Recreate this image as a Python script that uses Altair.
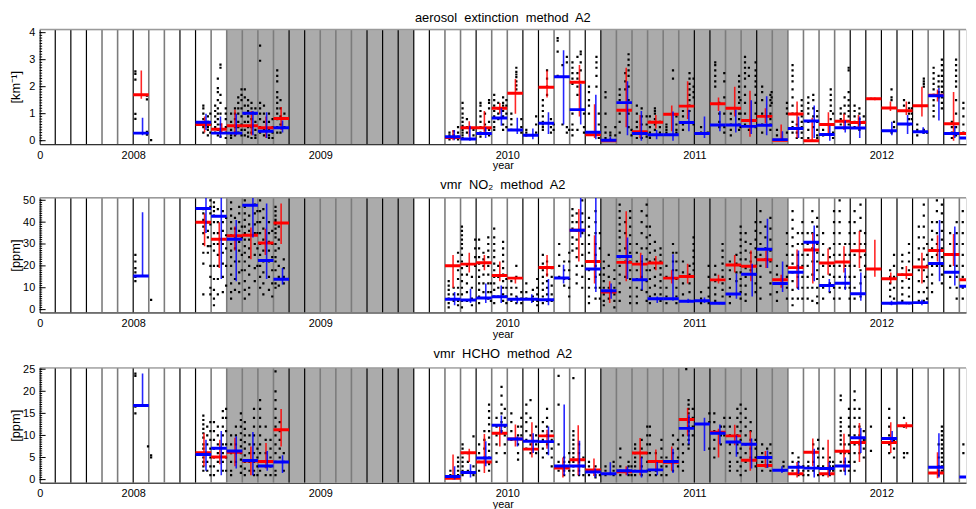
import altair as alt
import numpy as np
import pandas as pd

FONT = "Liberation Sans"
W, H = 936, 116
X_LO = 2007.5                      # month index 0 = July 2007
X_HI = X_LO + W / 189.0

# ---------------- shared layout data ----------------
SHADE_START = [2008.5, 2010.5]
SHADE_END = [2009.5, 2011.5]
LINE_K = list(range(1, 60))
LINE_TONE = "bbbggbggbb" "gggggbbggg" "bbbbbggbgg" "bbggbbgggg" "gbbggbgggg" "gbbbbbgbg"
X_TICKS = [2007.5, 2008, 2009, 2010, 2011, 2012]

# ---------------- aerosol extinction ----------------
AER_DOTS = [
    (6.14, [2.57, 2.47, 2.26, 0.99, 0.81]), (6.88, [1.67, 1.53, 0.33, 0.22]), (7.15, [0.02]),
    (10.50, [1.3, 1.2, 1.0, 0.8, 0.6, 0.5, 0.3]), (10.79, [0.9, 0.7, 0.5, 0.4, 0.2]), (10.95, [1.0, 0.6, 0.3]),
    (11.26, [1.3, 1.1, 0.9, 0.7, 0.5, 0.3]), (11.43, [2.3, 1.95, 1.8, 1.5, 1.2, 1.0, 0.8, 0.6, 0.4, 0.2]),
    (11.60, [2.82, 2.7, 1.7, 1.4, 1.0, 0.6, 0.35, 0.15]), (11.94, [1.2, 1.0, 0.8, 0.5, 0.3, 0.1]),
    (12.28, [1.0, 0.7, 0.4, 0.2, 0.1]), (12.53, [1.2, 1.0, 0.8, 0.5, 0.3, 0.2]),
    (12.74, [1.6, 1.4, 1.2, 1.0, 0.7, 0.5, 0.3]), (12.95, [1.9, 1.7, 1.5, 1.2, 0.9, 0.6, 0.4, 0.2]),
    (13.16, [1.9, 1.6, 1.3, 1.0, 0.7, 0.4, 0.2]), (13.37, [1.5, 1.3, 1.1, 0.9, 0.7, 0.5, 0.3, 0.15]),
    (13.59, [1.4, 1.2, 1.0, 0.8, 0.5, 0.3, 0.1]), (13.84, [1.2, 1.0, 0.7, 0.4, 0.2, 0.1]),
    (14.14, [3.52, 2.96, 1.4, 1.2, 1.0, 0.8, 0.5, 0.3]), (14.39, [1.3, 1.0, 0.7, 0.4, 0.2]),
    (14.71, [1.0, 0.7, 0.4, 0.2, 0.1]), (14.94, [0.8, 0.5, 0.3, 0.1]),
    (15.24, [2.6, 2.4, 2.2, 1.8, 1.6, 1.4, 1.2, 1.0, 0.8, 0.5, 0.3]), (15.45, [1.5, 1.2, 0.9, 0.6, 0.3]),
    (15.70, [1.0, 0.5]),
    (26.29, [0.3, 0.2, 0.1, 0.05]), (26.56, [0.35, 0.2, 0.1]), (26.84, [0.5, 0.3, 0.15, 0.05]),
    (27.13, [1.4, 1.2, 1.0, 0.85, 0.7, 0.55, 0.4, 0.3, 0.2, 0.1]), (27.41, [0.8, 0.5, 0.3]), (27.83, [0.4, 0.2]),
    (28.28, [1.4, 1.3, 1.1, 0.9, 0.7, 0.5, 0.3, 0.15]), (28.57, [1.0, 0.6, 0.4]),
    (28.83, [1.5, 1.4, 1.2, 0.7, 0.4, 0.2]), (29.16, [1.7, 1.5, 1.3, 1.1, 0.9, 0.7, 0.5, 0.4]),
    (29.42, [1.4, 1.2, 1.0, 0.8]), (29.73, [1.6, 1.4, 1.3, 1.1, 0.9, 0.6, 0.4]), (29.94, [1.5, 1.3, 1.0, 0.5]),
    (30.26, [1.0, 0.8, 0.6, 0.4]), (30.58, [2.7, 2.55, 2.45, 2.35, 2.2, 2.05, 1.9]), (30.90, [0.8, 0.5, 0.3]),
    (31.22, [0.4, 0.3, 0.2]), (31.85, [0.9, 0.6, 0.3]),
    (32.28, [1.5, 1.3, 1.1, 0.9, 0.7, 0.6, 0.5, 0.4]), (32.55, [2.6, 2.3, 2.0, 1.7]), (32.80, [0.8, 0.5, 0.3]),
    (32.97, [0.6, 0.4]), (33.23, [3.8, 3.7, 3.3, 2.4]), (33.54, [2.8, 0.6]), (33.82, [3.1, 2.9, 0.5, 0.3]),
    (33.97, [0.4]), (34.18, [2.9, 2.7, 2.5, 2.3, 2.1, 1.0, 0.6, 0.4, 0.2]), (34.50, [3.1, 2.5, 2.3, 2.0, 1.7, 0.4]),
    (34.71, [3.3, 3.2, 2.9, 2.6]), (34.92, [1.0, 0.5, 0.3]), (35.24, [2.0, 1.8, 1.5, 1.3, 1.0]),
    (35.72, [3.1, 2.9, 2.7, 2.4, 2.0]), (35.87, [1.0, 0.6, 0.3, 0.1]), (36.30, [1.8, 1.6, 1.0, 0.5, 0.3, 0.1]),
    (36.61, [0.3, 0.2]), (36.93, [0.5, 0.2]), (37.21, [1.9, 1.7, 1.5, 1.0, 0.7, 0.3]), (37.57, [2.5, 2.2, 1.9]),
    (37.78, [3.2, 3.0, 2.8, 2.6, 2.4, 2.0, 1.5, 1.0, 0.5]), (37.97, [0.4, 0.2]),
    (38.31, [1.3, 1.0, 0.7, 0.5, 0.3, 0.1]), (38.62, [1.2, 0.9, 0.6, 0.3, 0.1]), (38.94, [0.9, 0.6, 0.3, 0.15]),
    (39.15, [0.9, 0.7, 0.5, 0.3, 0.2, 0.1]), (39.47, [1.2, 1.1, 1.0, 0.8, 0.6, 0.4]), (39.79, [0.7, 0.5, 0.3]),
    (40.21, [0.6, 0.5, 0.4, 0.3]), (40.63, [2.6, 2.3]), (40.85, [0.9, 0.6, 0.4, 0.3]),
    (41.27, [1.1, 0.9, 0.6, 0.4]), (41.69, [2.5, 2.3, 2.1, 1.9, 1.7, 1.5, 1.3, 1.1]), (41.95, [2.3, 2.0, 1.8, 1.6, 0.6]),
    (42.43, [0.5, 0.3]), (42.86, [0.3]), (43.34, [2.9, 2.8, 2.6, 2.4, 2.2, 2.0]), (43.60, [1.4, 1.0, 0.7, 0.5]),
    (43.92, [2.5, 2.2, 1.6, 1.0, 0.5, 0.3]), (44.34, [1.0, 0.8, 0.6, 0.4, 0.2]),
    (44.87, [2.4, 2.2, 2.0, 1.8, 1.6, 1.4, 1.2, 1.0, 0.8, 0.6, 0.4]), (44.96, [1.5, 1.0, 0.5]),
    (45.25, [3.1, 2.9, 2.7, 2.5, 2.3, 2.0, 1.7, 1.4, 1.0, 0.6]), (45.50, [2.7, 2.4, 0.4]),
    (45.93, [2.9, 2.6, 2.4, 2.2, 2.0, 1.7, 1.4, 1.0, 0.5]), (46.35, [2.0, 1.8, 1.5, 1.0, 0.6, 0.3]),
    (46.88, [1.7, 1.5, 1.3, 1.0, 0.8, 0.6, 0.4]), (46.96, [1.8, 1.6, 1.4]), (47.30, [0.4, 0.2]),
    (47.94, [1.4, 1.2, 1.0, 0.3]), (48.30, [2.8, 2.6, 2.4, 2.2, 1.9, 1.6, 1.3, 1.0, 0.7, 0.5, 0.3]),
    (48.57, [1.0, 0.6, 0.3, 0.1]), (48.89, [1.5, 1.3, 1.1, 0.9, 0.7, 0.5, 0.3, 0.1]),
    (49.31, [1.6, 1.4, 1.2, 1.0, 0.7, 0.4, 0.1]), (49.63, [1.7, 1.5, 1.2, 0.9, 0.5]),
    (49.88, [1.1, 0.9, 0.7, 0.4, 0.2, 0.1]), (50.26, [0.6, 0.4, 0.2]), (50.75, [1.9, 1.7, 1.5, 1.3, 1.1, 0.8]),
    (50.90, [1.0, 0.6, 0.3, 0.1]), (51.39, [1.2, 1.0, 0.8, 0.6]), (51.64, [1.6, 1.3, 1.0, 0.7]),
    (51.90, [2.7, 2.6, 1.8, 1.5, 1.3, 1.1, 0.9, 0.6]), (52.28, [1.3, 1.1, 0.9, 0.7, 0.5]),
    (52.59, [1.2, 1.0, 0.8, 0.6, 0.4]), (52.87, [0.9, 0.7]), (53.33, [1.55]), (54.65, [1.9, 1.6, 1.5, 0.3]),
    (54.81, [0.7, 0.5]), (55.45, [1.5, 1.3, 1.1]), (55.77, [1.4, 1.2, 1.0, 0.8, 0.6]), (55.95, [1.2, 1.0, 0.8]),
    (56.30, [0.6, 0.4, 0.2]), (56.72, [2.3, 2.2, 2.1, 2.0, 0.4, 0.3]), (56.93, [0.3]),
    (57.35, [2.7, 2.5, 2.3, 2.1, 1.9, 1.7, 1.5, 1.3, 1.1, 0.9]), (57.67, [2.4, 2.2, 2.0, 1.8, 1.7, 1.6]),
    (57.88, [3.0, 2.8, 2.6, 2.4, 2.2, 2.0, 1.8, 1.6, 1.4, 1.2]), (58.52, [0.7, 0.5, 0.3, 0.1]),
    (58.79, [3.0, 2.8, 2.6, 2.4, 2.2, 2.0, 1.5, 1.0, 0.5, 0.2]), (59.26, [1.4, 1.2, 0.9, 0.6, 0.3]),
]
# (month index, value, low, high, position of error bar within month)
AER_RED = [
    (6, 1.70, 1.55, 2.60, .52), (10, 0.60, 0.30, 0.90, .58), (11, 0.42, 0.25, 0.65, .68),
    (12, 0.55, 0.20, 1.15, .53), (13, 0.55, 0.20, 1.10, .59), (14, 0.48, 0.10, 0.90, .52),
    (15, 0.82, 0.40, 1.25, .49), (26, 0.12, 0.02, 0.40, .52), (27, 0.48, 0.15, 0.72, .56),
    (28, 0.48, 0.30, 1.10, .53), (29, 1.20, 1.00, 1.40, .52), (30, 1.76, 1.00, 2.28, .52),
    (32, 1.98, 1.60, 2.60, .55), (34, 2.16, 0.90, 2.80, .63), (35, 0.22, 0.10, 1.35, .60),
    (36, 0.00, 0.00, 0.10, .61), (37, 1.13, 0.50, 2.70, .63), (38, 0.33, 0.10, 0.95, .52),
    (39, 0.68, 0.45, 0.95, .53), (40, 0.98, 0.35, 1.30, .55), (41, 1.28, 0.80, 2.20, .57),
    (43, 1.37, 1.10, 1.60, .55), (44, 1.20, 0.90, 2.00, .59), (45, 0.75, 0.15, 1.85, .57),
    (46, 0.90, 0.65, 1.20, .56), (47, 0.02, 0.00, 0.60, .57), (48, 0.99, 0.10, 1.45, .59),
    (49, 0.00, 0.00, 0.85, .56), (50, 0.60, 0.25, 1.05, .60), (51, 0.72, 0.40, 1.00, .60),
    (52, 0.67, 0.45, 0.95, .53), (53, 1.55, 1.50, 1.60, .58), (54, 1.21, 1.10, 1.45, .58),
    (55, 1.11, 0.95, 1.45, .60), (56, 1.29, 0.90, 2.00, .60), (57, 1.68, 1.45, 1.90, .60),
    (58, 0.63, 0.00, 1.80, .63), (59, 0.27, 0.10, 0.40, .50),
]
AER_BLUE = [
    (6, 0.28, 0.20, 0.85, .60), (10, 0.68, 0.40, 1.00, .67), (11, 0.28, 0.10, 0.90, .60),
    (12, 0.28, 0.20, 1.00, .61), (13, 1.02, 0.20, 1.10, .68), (14, 0.35, 0.10, 1.05, .56),
    (15, 0.48, 0.30, 0.75, .58), (26, 0.15, 0.02, 0.40, .60), (27, 0.06, 0.00, 0.55, .60),
    (28, 0.27, 0.10, 0.50, .61), (29, 0.84, 0.55, 1.20, .62), (30, 0.40, 0.25, 0.85, .64),
    (31, 0.20, 0.05, 0.45, .64), (32, 0.65, 0.25, 1.05, .64), (33, 2.37, 0.60, 3.35, .61),
    (34, 1.15, 0.60, 2.10, .71), (35, 0.31, 0.05, 1.70, .68), (36, 0.02, 0.00, 0.15, .61),
    (37, 1.41, 0.20, 2.20, .71), (38, 0.27, 0.00, 1.10, .60), (39, 0.22, 0.05, 0.40, .58),
    (40, 0.22, 0.00, 1.08, .63), (41, 0.67, 0.35, 1.15, .65), (42, 0.27, 0.10, 0.90, .65),
    (43, 0.58, 0.35, 1.10, .64), (44, 0.58, 0.30, 1.15, .66), (45, 0.53, 0.25, 1.50, .65),
    (46, 0.57, 0.20, 1.65, .64), (47, 0.04, 0.00, 0.35, .65), (48, 0.45, 0.10, 0.90, .68),
    (49, 0.73, 0.10, 1.30, .69), (50, 0.23, 0.00, 0.55, .69), (51, 0.48, 0.30, 0.75, .68),
    (52, 0.47, 0.10, 0.90, .61), (54, 0.37, 0.20, 0.70, .67), (55, 0.62, 0.25, 0.95, .68),
    (56, 0.33, 0.25, 0.50, .68), (57, 1.66, 0.75, 1.95, .69), (58, 0.27, 0.10, 0.55, .71),
    (59, 0.10, 0.00, 0.20, .60),
]

# ---------------- NO2 ----------------
NO2_DOTS = [
    (6.14, [25, 22, 19, 17, 15, 13]), (7.15, [4.5]),
    (10.50, [46, 44, 41, 38, 35, 30, 26, 21, 7]), (10.79, [40, 36, 33, 29, 26]),
    (10.95, [50, 47, 44, 39, 29, 20, 15, 10, 7]), (11.18, [49, 47, 45, 43, 40, 35, 30, 27, 20, 14, 9, 5, 2]),
    (11.43, [46, 40, 35, 30, 25, 20, 14, 7]), (11.75, [45, 40, 36, 30, 26, 21, 15, 8]),
    (11.96, [42, 34, 28, 20, 11]), (12.28, [49, 46, 43, 40, 37, 34, 30, 27, 24, 20, 16, 12, 8, 5]),
    (12.53, [42, 37, 33, 28, 22, 14, 9]), (12.80, [47, 44, 40, 36, 31, 27, 22, 17, 12, 8]),
    (12.97, [38, 33, 25, 18]), (13.16, [50, 47, 44, 41, 38, 35, 32, 29, 26, 22, 18, 13, 9, 5]),
    (13.44, [43, 39, 36, 32, 28, 24, 20, 16, 10, 7]), (13.80, [48, 44, 39, 35, 30, 25, 19, 13]),
    (13.97, [45, 40, 35, 28, 20]), (14.14, [50, 45, 40, 35, 30, 25, 20, 15, 10]),
    (14.35, [46, 42, 37, 32, 27, 22, 17, 12, 7]), (14.71, [40, 35, 31, 27, 22, 15, 9]),
    (14.92, [36, 30, 24, 18, 12, 6]),
    (15.13, [47, 45, 43, 41, 40, 39, 37, 35, 33, 30, 27, 24, 22, 18, 14, 12, 10]),
    (15.34, [38, 32, 28, 20, 15, 11]), (15.66, [23, 19, 15, 12]),
    (26.24, [13, 11, 9, 7, 5, 3, 1]), (26.56, [10, 7, 4]), (26.84, [26, 22, 18, 14, 10, 7, 4, 2]),
    (27.09, [38, 36, 34, 32, 30, 28, 25, 22, 19, 16, 13, 10, 7, 4, 1]), (27.41, [20, 16, 12, 8, 4]),
    (27.73, [15, 10, 5, 2]), (27.94, [32, 28, 24, 20]), (28.19, [32, 28, 24, 21, 18, 15, 12, 9, 6, 3]),
    (28.47, [26, 23, 20, 16, 12, 8]), (28.78, [33, 30, 27, 24, 20, 16, 12, 8, 5]), (28.95, [12, 8, 4]),
    (29.16, [37, 33, 30, 27, 24, 21, 18, 15, 12, 9, 6, 3]), (29.42, [20, 15, 10, 6]),
    (29.73, [31, 28, 25, 22, 19, 16, 13, 10, 7, 4]), (29.94, [14, 10, 6, 3]),
    (30.26, [13, 10, 7, 4]), (30.58, [20, 15, 10, 6, 3]), (30.90, [8, 5, 3]),
    (31.22, [12, 8, 5]), (31.64, [9, 6, 4]), (31.92, [14, 10, 7, 4, 2]),
    (32.28, [25, 21, 18, 15, 12, 9, 6, 3]), (32.55, [22, 19, 16, 13, 10, 7, 4]), (32.85, [19, 15, 11, 7, 4]),
    (33.33, [30, 25, 20, 15]), (33.65, [22, 18, 14, 11]), (33.97, [26, 22, 18, 14, 10, 6]),
    (34.18, [46, 43, 40, 37, 33, 30, 27]), (34.45, [44, 40, 36, 32, 28, 24, 20, 16, 12]),
    (34.81, [50, 44, 40, 35, 30, 25, 20, 15, 10]), (35.24, [42, 38, 34, 30, 26, 22, 18, 14, 10, 6, 3]),
    (35.66, [45, 40, 35, 30, 25, 20, 15, 10, 5]), (35.94, [35, 28, 22, 16, 10, 5]),
    (36.19, [22, 19, 16, 13, 10, 7, 4, 2]), (36.51, [25, 20, 15, 10, 5]), (36.87, [18, 14, 10, 7, 4, 1]),
    (37.21, [48, 45, 42, 39, 36, 33, 30, 27, 24, 20, 16, 12, 8, 4]), (37.57, [40, 35, 28, 22, 15]),
    (37.88, [45, 42, 38, 34, 30, 26, 22, 18, 14, 10, 6, 3]), (38.31, [30, 26, 22, 18, 14, 10, 6, 3]),
    (38.62, [45, 40, 35, 28, 22, 15, 9]), (38.94, [48, 43, 38, 33, 28, 23, 18, 13, 8, 4]),
    (39.15, [38, 34, 30, 26, 22, 18, 14, 10, 6, 3]), (39.47, [31, 27, 23, 19, 15, 11, 7]),
    (39.83, [28, 25, 22, 19, 16, 13, 10, 7, 4]), (40.21, [20, 15, 10, 6, 3]), (40.63, [30, 26, 22, 18]),
    (40.85, [26, 22, 18, 14, 10, 6, 3]), (41.27, [22, 17, 12, 7]), (41.69, [20, 16, 12, 8, 4]),
    (41.95, [33, 30, 27, 24, 21, 18, 15]), (42.43, [8, 5, 3]), (42.92, [20, 15, 10, 6, 3]),
    (43.34, [20, 16, 13, 10, 7, 4]), (43.81, [30, 27, 24, 21, 18, 15, 12, 9, 6, 3]),
    (44.28, [22, 18, 14, 10, 6, 3]), (44.70, [25, 21, 17, 13]),
    (44.97, [38, 35, 32, 29, 26, 23, 20, 17, 14, 11, 8, 5]), (45.29, [35, 31, 27, 23, 19, 15, 11, 7, 4]),
    (45.61, [30, 26, 22, 18]), (45.93, [40, 36, 32, 28, 24, 20, 16, 12, 8]),
    (46.24, [45, 40, 35, 30, 25, 20, 15, 10, 5]), (46.56, [38, 33, 28, 23]),
    (46.88, [42, 37, 32, 27, 22, 17, 12, 7]), (47.30, [20, 16, 12, 8, 4]), (47.94, [35, 30, 25, 20, 15, 10, 5]),
    (48.30, [45, 41, 37, 33, 29, 25, 21, 17, 13, 9, 5, 2]), (48.64, [35, 30, 25, 20, 15, 10, 5]),
    (48.93, [40, 35, 30, 25, 20, 15, 10, 5]), (49.27, [35, 30, 25, 20, 15, 10, 5]),
    (49.57, [45, 40, 35, 28, 22, 16, 10, 4]), (49.88, [42, 38, 34, 30, 26, 22, 18, 14, 10, 6, 3]),
    (50.26, [35, 30, 25, 20, 15, 10, 5]), (50.69, [28, 24, 20, 16, 12, 8]),
    (50.96, [45, 40, 35, 30, 25, 20, 15, 10, 5]), (51.32, [50, 45, 40, 35, 30, 25, 20, 15, 10, 5]),
    (51.68, [30, 25, 20, 15, 10]), (51.96, [40, 35, 30, 25, 20, 15, 10, 5]),
    (52.28, [45, 40, 35, 30, 25, 20, 15, 10, 5]), (52.66, [48, 42, 36, 30, 24, 18, 12, 6]),
    (52.95, [35, 30, 25, 20, 15]), (54.56, [18, 15, 12, 9, 6, 3]), (54.81, [25, 20, 15, 10, 5]),
    (55.34, [25, 22, 19, 16, 13, 10, 7, 4]), (55.77, [30, 26, 22, 18, 14, 10, 6, 3]),
    (56.40, [38, 33, 28, 23, 18, 13, 8, 4]), (56.72, [48, 43, 38, 33, 28, 23, 18, 13, 8, 4]),
    (56.93, [30, 25, 20, 15, 10, 5]), (57.25, [40, 36, 32, 28, 24, 20, 16, 12, 8]),
    (57.56, [50, 45, 40, 35, 30, 25, 20]), (57.88, [48, 44, 40, 36, 32, 28, 24, 20, 16, 12]),
    (58.41, [35, 30, 25, 20, 15, 10]), (58.83, [40, 35, 30, 25, 20, 15, 10, 5]),
    (59.22, [45, 40, 35, 30, 25, 20, 15, 10, 5]),
]
NO2_RED = [
    (10, 40.0, 29, 44, .58), (11, 32.2, 19, 40, .52), (12, 33.8, 27, 38, .53), (13, 34.0, 23, 37.5, .55),
    (14, 30.5, 25, 37, .48), (15, 39.6, 30, 48.5, .49), (26, 20.1, 10, 25, .52), (27, 20.8, 17, 26, .56),
    (28, 21.4, 18, 25, .53), (29, 15.6, 13, 22, .52), (30, 14.4, 12, 15, .52), (32, 19.3, 15, 25, .55),
    (34, 36.3, 22, 46, .59), (35, 22.0, 12, 34, .60), (36, 8.0, 3, 13, .57), (37, 21.6, 13, 45, .63),
    (38, 20.8, 14, 26, .56), (39, 21.3, 18, 24.5, .53), (40, 14.4, 12, 18, .55), (41, 15.1, 12, 21, .57),
    (43, 13.6, 12, 16, .55), (44, 20.4, 17, 25, .59), (45, 19.8, 13, 27, .63), (46, 22.8, 19, 27, .60),
    (47, 13.7, 10, 16, .57), (48, 19.2, 10, 27.5, .59), (49, 27.3, 12, 35, .60), (50, 21.3, 16, 28, .58),
    (51, 21.8, 17, 29, .60), (52, 26.9, 19, 36, .59), (53, 18.6, 15, 32, .58), (54, 14.1, 12, 17, .60),
    (55, 16.0, 14, 20, .60), (56, 19.5, 12, 26, .60), (57, 27.0, 22, 34, .60), (58, 25.2, 20, 34.6, .63),
    (59, 13.7, 10, 16, .50),
]
NO2_BLUE = [
    (6, 15.4, 15, 44.5, .60), (10, 46.2, 35, 51, .67), (11, 42.7, 14, 51, .65), (12, 32.2, 13, 41, .61),
    (13, 47.7, 33, 51, .68), (14, 22.5, 14, 48.5, .56), (15, 13.9, 11.5, 19, .58), (26, 4.7, 2, 8, .62),
    (27, 4.4, 3, 9.5, .64), (28, 5.3, 3, 12, .62), (29, 5.9, 3, 11, .61), (30, 4.7, 3, 6, .64),
    (31, 4.7, 3, 7, .57), (32, 4.5, 2, 14, .64), (33, 14.5, 12, 20.5, .61), (34, 36.3, 33, 51, .71),
    (35, 18.6, 8, 51, .68), (36, 8.6, 5, 12, .66), (37, 24.3, 14, 33, .71), (38, 13.7, 9, 25, .65),
    (39, 5.0, 3, 6, .62), (40, 5.0, 4, 25.3, .63), (41, 3.8, 3, 5, .60), (42, 4.1, 3, 5.5, .65),
    (43, 2.9, 2.5, 3.5, .60), (44, 7.1, 5, 16.5, .70), (45, 16.2, 6, 21, .71), (46, 27.6, 19, 41.5, .69),
    (47, 11.9, 8, 22, .66), (48, 17.1, 9, 27, .68), (49, 30.8, 13, 38.5, .69), (50, 11.0, 8, 14, .66),
    (51, 12.1, 9, 19, .68), (52, 7.3, 4, 17, .68), (54, 2.9, 2, 4, .65), (55, 3.0, 2.5, 3.5, .60),
    (56, 3.2, 2, 4.5, .60), (57, 21.1, 13, 41, .73), (58, 17.1, 11, 38, .71), (59, 10.7, 9, 12, .50),
]

# ---------------- HCHO ----------------
HCHO_DOTS = [
    (6.14, [24, 23.5, 16.5, 15]), (6.95, [7.5]), (7.15, [5.5, 5.0]),
    (10.50, [14.5, 13.5, 12.5, 11.5, 10.5, 9.5, 8, 7, 6, 5, 4, 3, 2]), (10.75, [12, 10, 8, 6, 4, 2]),
    (10.95, [13, 11, 9, 7, 5, 3, 1]), (11.18, [13, 11, 9, 7, 5, 3, 1]), (11.43, [12, 10, 8, 6, 4, 2]),
    (11.75, [15.5, 14, 12, 10, 8, 6, 4, 2]), (11.96, [16, 14, 11, 8, 5, 2]), (12.28, [10, 8, 6, 4, 2, 1]),
    (12.59, [12, 10, 8, 6, 4]), (12.91, [15, 13.5, 12, 10.5, 9, 7.5, 6, 4.5, 3, 1.5]),
    (13.16, [13, 11.5, 10, 8.5, 7, 5.5, 4, 2.5, 1]), (13.46, [10, 8, 6, 4, 2]),
    (13.75, [16, 14, 12, 10, 8, 6, 4, 2, 1]), (13.97, [7, 5, 3, 1]), (14.14, [18, 16, 14, 12, 10, 8, 6, 4, 2]),
    (14.50, [12, 9, 6, 3, 1]), (14.81, [9, 7, 5, 3, 1]), (15.13, [24.5, 20, 18, 16, 14, 12, 10, 8, 6, 4, 2, 1]),
    (15.40, [13, 11, 9, 7, 5]), (15.66, [6, 4, 2]),
    (26.35, [2, 1, 0.5]), (26.84, [5, 4, 3, 2, 1, 0.5]), (27.13, [8, 7, 6, 5, 4, 3, 2, 1]), (27.47, [6, 4, 2]),
    (27.83, [9.8, 3, 1]), (28.19, [8, 6, 4, 2]), (28.53, [11, 9, 7, 5]),
    (28.83, [17, 15.5, 14, 12.5, 11, 9.5, 8, 6.5, 5, 3.5, 2]), (29.31, [14, 12, 10, 8, 6, 4]),
    (29.63, [21, 19, 17, 15, 13, 11]), (29.84, [16, 14, 12, 10, 8, 6]), (30.26, [15, 13, 11, 9]),
    (30.69, [12, 10, 8, 6, 4.5]), (30.90, [14, 12, 10]), (31.22, [17, 15, 13, 11, 9, 7]),
    (31.49, [18, 14, 10, 8, 6]), (31.85, [12, 10, 8, 6]), (32.28, [13, 11, 9, 7, 5]),
    (32.55, [16, 14, 12, 10, 8, 6]), (32.85, [11, 9, 7, 5, 3]), (33.29, [23.5, 17, 8, 4, 3, 2]),
    (33.65, [5, 4, 3, 2, 1]), (33.97, [6, 4, 2]), (34.24, [23, 11, 10, 9, 8, 7, 6, 5, 4, 3, 2, 1]),
    (34.60, [8, 6, 4, 2, 1]), (34.88, [5, 3, 1]), (35.24, [4, 3, 2, 1]), (35.66, [3, 2, 1, 0.5]),
    (35.94, [2, 1]), (36.30, [3, 2, 1]), (36.82, [4, 3, 2, 1]), (37.25, [7, 5, 3, 2, 1]), (37.78, [4, 3, 2, 1]),
    (37.97, [3, 1]), (38.20, [8, 7, 6, 5, 4, 3, 2, 1]), (38.62, [9, 7, 5, 3, 1]), (38.98, [12, 10, 8, 6, 4, 2]),
    (39.15, [12, 10, 8, 6, 4, 2, 1]), (39.53, [6, 4, 2, 1]), (39.89, [9, 7, 5, 3, 1]), (40.21, [5, 3, 1]),
    (40.63, [10, 8, 6, 4, 2]), (40.95, [9, 7, 5, 3]), (41.27, [10, 8, 6, 4, 2]), (41.48, [25]),
    (41.63, [18, 17, 16, 15, 14, 13, 12, 11, 10, 9, 8, 7]), (41.90, [16, 14, 12, 10]), (42.96, [15, 13, 7]),
    (43.28, [15, 13, 11, 9, 7, 5]), (43.70, [12, 10, 8]), (43.92, [14, 12, 10]),
    (44.28, [14, 12, 10, 8, 6, 4, 3, 2]), (44.76, [16, 14, 12, 10, 8, 6, 4, 2]),
    (44.97, [17, 15, 13, 11, 9, 7, 5, 3, 1]), (45.29, [16, 14, 12, 10, 8, 6, 4, 2]), (45.61, [13, 11, 9, 7, 5]),
    (45.93, [9, 7, 5, 3]), (46.35, [8, 6, 4, 2]), (46.67, [7, 5, 3]), (46.88, [8, 6, 4, 2]), (47.72, [4, 3, 2]),
    (48.30, [6, 4, 2]), (48.68, [5, 4, 3, 2, 1]), (48.99, [3, 2, 1]), (49.31, [4, 3, 2, 1]), (49.63, [8, 6, 4, 2]),
    (49.94, [9, 7, 5, 3, 1]), (50.26, [7, 5, 3, 1]), (50.69, [5, 4, 3, 2, 1]), (50.90, [4, 3, 2]),
    (51.39, [19, 18, 14, 13, 12, 11, 10, 9, 8, 6, 4, 2]), (51.64, [8, 6, 4, 2]),
    (51.92, [16, 14, 12, 10, 8, 6, 4, 2]), (52.28, [20, 18, 16, 14, 12, 10, 8, 6, 4, 2]),
    (52.59, [16, 14, 12, 10, 8, 6]), (52.87, [11, 9, 7, 5]), (53.33, [12, 6.5]), (54.50, [16, 14, 12, 10, 8, 6]),
    (54.81, [9, 7, 5]), (55.45, [14, 12, 6, 5]), (55.66, [6]), (57.67, [8, 5, 3, 2, 1]),
    (57.88, [12, 11, 10, 9, 8, 7, 6, 5, 4, 3, 2]), (59.26, [8, 6]),
]
HCHO_RED = [
    (10, 6.1, 3, 10.5, .54), (11, 5.1, 3.5, 9, .56), (12, 6.2, 3, 9.5, .53), (13, 4.2, 1, 7.5, .55),
    (14, 4.1, 2.5, 8.3, .52), (15, 11.3, 7.5, 16, .49), (26, 0.3, 0, 5.7, .52), (27, 6.1, 4, 7, .56),
    (28, 4.0, 1.5, 10.3, .53), (29, 10.5, 7.5, 12.3, .52), (30, 9.2, 7.5, 12.5, .52), (31, 6.9, 5, 13, .58),
    (32, 9.9, 7, 11.3, .55), (33, 2.6, 0.5, 5, .57), (34, 4.5, 1, 12.3, .55), (35, 2.2, 0.8, 4.8, .56),
    (37, 1.8, 1, 3, .63), (38, 6.0, 1, 9.4, .52), (39, 4.1, 2, 6.8, .53), (40, 3.9, 2, 7.5, .55),
    (41, 13.6, 10, 16.2, .57), (43, 10.7, 5, 11.5, .55), (44, 9.9, 7.8, 12.4, .59), (45, 4.4, 2, 11, .59),
    (46, 3.2, 2.6, 6.5, .56), (48, 1.3, 0.5, 4, .59), (49, 6.2, 3, 9.3, .60), (50, 1.3, 0.5, 9, .58),
    (51, 6.4, 2, 10.4, .60), (52, 8.4, 4, 12.8, .59), (54, 8.4, 6, 13, .60), (55, 12.2, 11.5, 13, .60),
    (57, 1.5, 0.3, 6.2, .60),
]
HCHO_BLUE = [
    (6, 16.8, 16.5, 24, .60), (10, 5.7, 2, 9, .67), (11, 7.1, 1, 11, .65), (12, 6.5, 2.5, 9.8, .61),
    (13, 4.3, 1, 10.8, .68), (14, 3.1, 2, 6.5, .60), (15, 4.0, 1.5, 5.5, .58), (26, 0.7, 0, 3, .62),
    (27, 1.6, 0.5, 3.5, .64), (28, 4.9, 3, 8.7, .62), (29, 12.3, 10.5, 14.5, .62), (30, 9.2, 7.5, 9.8, .65),
    (31, 8.7, 6, 10.5, .66), (32, 8.6, 5.5, 12, .64), (33, 3.1, 1, 17, .65), (34, 3.1, 1, 8.8, .63),
    (35, 1.7, 0.5, 2.5, .64), (36, 1.3, 1, 3.9, .61), (37, 2.0, 1, 2.9, .71), (38, 1.9, 0.5, 5, .61),
    (39, 2.2, 1, 4, .62), (40, 4.1, 1.5, 7, .63), (41, 11.6, 8, 14.7, .65), (42, 12.6, 6.5, 14, .65),
    (43, 10.5, 8, 12.5, .64), (44, 8.5, 5.2, 10, .70), (45, 8.0, 2.5, 9.3, .67), (46, 5.0, 2.7, 6.6, .69),
    (47, 2.1, 1.5, 3, .62), (48, 2.8, 1.3, 4, .68), (49, 2.6, 0.5, 7, .69), (50, 2.5, 1, 4, .66),
    (51, 3.1, 1, 5, .68), (52, 9.5, 6, 11.7, .68), (54, 9.3, 8.5, 11, .69), (57, 2.8, 0.5, 10.5, .69),
    (59, 0.6, 0.3, 1, .50),
]


def yr(m):
    return X_LO + m / 12.0


def dots_df(rows):
    xs, ys = [], []
    for m, vals in rows:
        for v in vals:
            xs.append(yr(m))
            ys.append(v)
    return pd.DataFrame({"x": xs, "v": ys})


def bars_df(rows):
    return pd.DataFrame({
        "x0": [yr(r[0]) for r in rows], "x1": [yr(r[0] + 1) for r in rows],
        "xe": [yr(r[0] + r[4]) for r in rows],
        "v": [r[1] for r in rows], "lo": [r[2] for r in rows], "hi": [r[3] for r in rows],
    })


shade_df = pd.DataFrame({"x0": SHADE_START, "x1": SHADE_END})
lines_df = pd.DataFrame({"x": [yr(k) for k in LINE_K], "tone": list(LINE_TONE)})
black_lines = lines_df[lines_df.tone == "b"]
gray_lines = lines_df[lines_df.tone == "g"]

xscale = alt.Scale(domain=[X_LO, X_HI], nice=False, zero=False)
xaxis = alt.Axis(values=X_TICKS, labelExpr="datum.value < 2007.9 ? '0' : format(datum.value, 'd')",
                 title="year", tickSize=0, grid=False, domainColor="black", domainWidth=1,
                 labelFont=FONT, labelFontSize=11, labelColor="black", labelPadding=5, labelFlush=False,
                 titleFont=FONT, titleFontSize=11, titleFontWeight="normal", titleColor="black",
                 titlePadding=0)


def panel(title, ytitle, ydom, majors, minor_step, dots, red, blue):
    yscale = alt.Scale(domain=ydom, nice=False, zero=False)
    yaxis = alt.Axis(values=majors, title=ytitle, tickSize=0, grid=False, domainColor="black",
                     labelFont=FONT, labelFontSize=11, labelColor="black", labelPadding=5,
                     titleFont=FONT, titleFontSize=13, titleFontWeight="normal", titleColor="black",
                     titlePadding=3, minExtent=14, maxExtent=14)
    X = lambda f: alt.X(f, type="quantitative", scale=xscale, axis=xaxis)
    Y = lambda f: alt.Y(f, type="quantitative", scale=yscale, axis=yaxis)

    shade = alt.Chart(shade_df).mark_rect(color="#ababab", clip=True).encode(
        x=X("x0"), x2="x1", y=alt.value(0), y2=alt.value(H))
    bl = alt.Chart(black_lines).mark_rule(color="#000000", strokeWidth=1.2, clip=True).encode(
        x=X("x"), y=alt.value(0), y2=alt.value(H))
    gl = alt.Chart(gray_lines).mark_rule(color="#7c7c7c", strokeWidth=1.6, clip=True).encode(
        x=X("x"), y=alt.value(0), y2=alt.value(H))
    top = alt.Chart(pd.DataFrame({"a": [0]})).mark_rule(color="#9a9a9a", strokeWidth=1.5).encode(
        x=alt.value(0), x2=alt.value(W), y=alt.value(0))
    lo, hi = majors[0], majors[-1]
    minor_df = pd.DataFrame({"t": np.arange(lo, hi + minor_step / 2, minor_step)})
    major_df = pd.DataFrame({"t": majors})
    minor = alt.Chart(minor_df).mark_rule(color="black", strokeWidth=1).encode(
        y=Y("t"), x=alt.value(0), x2=alt.value(2.5))
    major = alt.Chart(major_df).mark_rule(color="black", strokeWidth=1).encode(
        y=Y("t"), x=alt.value(0), x2=alt.value(6))
    pts = alt.Chart(dots_df(dots)).mark_square(size=5, color="black", opacity=1, clip=True).encode(
        x=X("x"), y=Y("v"))
    layers = [shade, bl, gl, top, minor, major, pts]
    for rows, col in ((red, "#ff0000"), (blue, "#0000ff")):
        df = bars_df(rows)
        layers.append(alt.Chart(df).mark_rule(color=col, strokeWidth=3, clip=True).encode(
            x=X("x0"), x2="x1", y=Y("v")))
        layers.append(alt.Chart(df).mark_rule(color=col, strokeWidth=1.6, opacity=0.85, clip=True).encode(
            x=X("xe"), y=Y("lo"), y2="hi"))
    return alt.layer(*layers).properties(
        width=W, height=H,
        title=alt.TitleParams(text=title, font=FONT, fontSize=13, fontWeight="normal", color="black",
                              anchor="middle", offset=2))


SP = "\u00a0 "
p1 = panel(f"aerosol{SP}extinction{SP}method{SP}A2", "[km\u207b\u00b9]", [-0.13, 4.12],
           [0, 1, 2, 3, 4], 0.1, AER_DOTS, AER_RED, AER_BLUE)
p2 = panel(f"vmr{SP}NO\u2082{SP}method{SP}A2", "[ppm]", [-1.3, 51.2],
           [0, 10, 20, 30, 40, 50], 1, NO2_DOTS, NO2_RED, NO2_BLUE)
p3 = panel(f"vmr{SP}HCHO{SP}method{SP}A2", "[ppm]", [-0.7, 25.3],
           [0, 5, 10, 15, 20, 25], 0.5, HCHO_DOTS, HCHO_RED, HCHO_BLUE)

chart = alt.vconcat(p1, p2, p3, spacing=7).properties(
    padding={"left": 1, "top": 0, "right": 0, "bottom": 0}
).configure_view(stroke=None).configure(background="white")

chart.save("out.html", embed_options={"renderer": "svg", "actions": False})
